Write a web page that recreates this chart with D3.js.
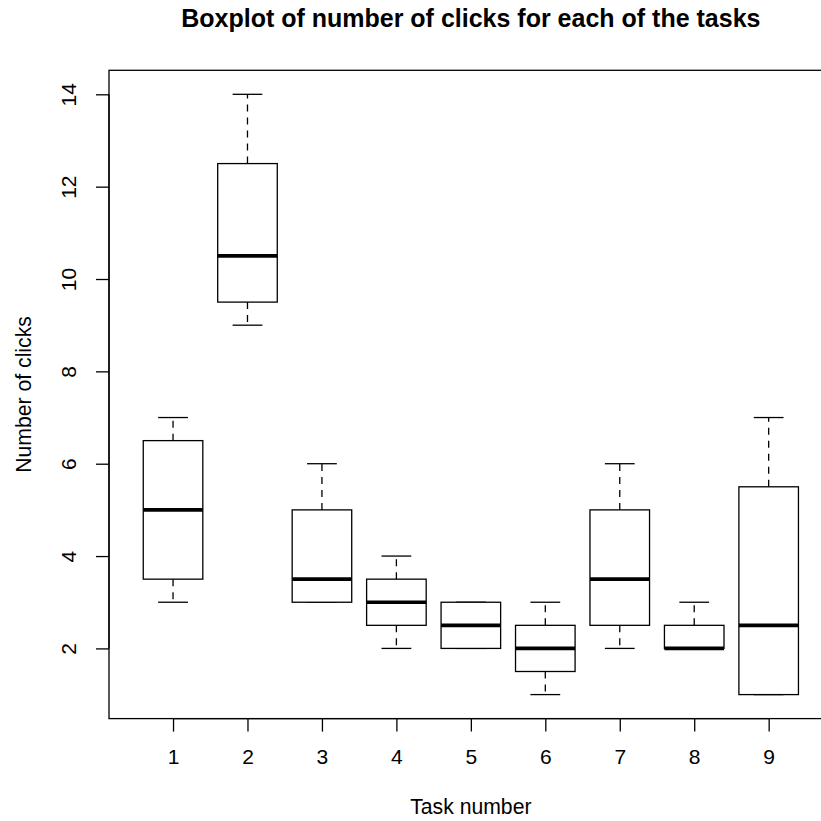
<!DOCTYPE html>
<html><head><meta charset="utf-8">
<script src="https://cdn.jsdelivr.net/npm/d3@7"></script>
<style>body{margin:0;background:#fff}svg{display:block}</style>
</head><body>
<script>
const tasks = ["1","2","3","4","5","6","7","8","9"];
const whiskerLow  = [3, 9, 3, 2, 2, 1, 2, 2, 1];
const boxLow      = [3.5, 9.5, 3, 2.5, 2, 1.5, 2.5, 2, 1];
const medians     = [5, 10.5, 3.5, 3, 2.5, 2, 3.5, 2, 2.5];
const boxHigh     = [6.5, 12.5, 5, 3.5, 3, 2.5, 5, 2.5, 5.5];
const whiskerHigh = [7, 14, 6, 4, 3, 3, 6, 3, 7];
const yTicks = [2, 4, 6, 8, 10, 12, 14];

const W = 821, H = 821;
const svg = d3.select("body").append("svg").attr("width", W).attr("height", H);
const font = "Liberation Sans, Arial, Helvetica, sans-serif";

const x = d3.scaleLinear().domain([0.14, 9.86]).range([109, 832.7]);
const y = d3.scaleLinear().domain([0.48, 14.52]).range([718.6, 70.3]);

const data = tasks.map((t, i) => ({
  t, i: i + 1, wl: whiskerLow[i], bl: boxLow[i], med: medians[i], bh: boxHigh[i], wh: whiskerHigh[i]
}));
const bw = x(1.4) - x(1);   // half box width (0.4)
const cw = x(1.2) - x(1);   // half cap width (0.2)

const g = svg.append("g");
const bx = g.selectAll("g.b").data(data).enter().append("g");
bx.append("line").attr("x1", d => x(d.i)).attr("x2", d => x(d.i))
  .attr("y1", d => y(d.bh)).attr("y2", d => y(d.wh))
  .attr("stroke", "#000").attr("stroke-width", 1.3).attr("stroke-dasharray", "7,6");
bx.append("line").attr("x1", d => x(d.i)).attr("x2", d => x(d.i))
  .attr("y1", d => y(d.bl)).attr("y2", d => y(d.wl))
  .attr("stroke", "#000").attr("stroke-width", 1.3).attr("stroke-dasharray", "7,6");
bx.append("line").attr("x1", d => x(d.i) - cw).attr("x2", d => x(d.i) + cw)
  .attr("y1", d => y(d.wh)).attr("y2", d => y(d.wh)).attr("stroke", "#000").attr("stroke-width", 1.3);
bx.append("line").attr("x1", d => x(d.i) - cw).attr("x2", d => x(d.i) + cw)
  .attr("y1", d => y(d.wl)).attr("y2", d => y(d.wl)).attr("stroke", "#000").attr("stroke-width", 1.3);
bx.append("rect").attr("x", d => x(d.i) - bw).attr("width", 2 * bw)
  .attr("y", d => y(d.bh)).attr("height", d => y(d.bl) - y(d.bh))
  .attr("fill", "#fff").attr("stroke", "#000").attr("stroke-width", 1.3);
bx.append("line").attr("x1", d => x(d.i) - bw).attr("x2", d => x(d.i) + bw)
  .attr("y1", d => y(d.med)).attr("y2", d => y(d.med)).attr("stroke", "#000").attr("stroke-width", 3.6);

svg.append("rect").attr("x", x.range()[0]).attr("y", y.range()[1])
  .attr("width", x.range()[1] - x.range()[0]).attr("height", y.range()[0] - y.range()[1])
  .attr("fill", "none").attr("stroke", "#000").attr("stroke-width", 1.3);

const xAxis = d3.axisBottom(x).tickValues(d3.range(1, 10)).tickFormat(d => tasks[d - 1])
  .tickSize(13).tickPadding(17);
const xa = svg.append("g").attr("transform", `translate(0,${y.range()[0]})`).call(xAxis);
xa.select(".domain").attr("d", `M${x(1)},0H${x(9)}`).attr("stroke-width", 1.3);
xa.selectAll(".tick line").attr("stroke-width", 1.3);
xa.selectAll("text").attr("font-family", font).attr("font-size", 21).attr("fill", "#000");

const yAxis = d3.axisLeft(y).tickValues(yTicks).tickSize(13).tickPadding(0).tickFormat(d3.format("d"));
const ya = svg.append("g").attr("transform", `translate(${x.range()[0]},0)`).call(yAxis);
ya.select(".domain").attr("d", `M0,${y(2)}V${y(14)}`).attr("stroke-width", 1.3);
ya.selectAll(".tick line").attr("stroke-width", 1.3);
ya.selectAll("text").attr("font-family", font).attr("font-size", 21).attr("fill", "#000")
  .attr("text-anchor", "middle").attr("x", 0).attr("dy", 0)
  .attr("transform", "translate(-39,0) rotate(-90)").attr("y", 0).attr("dominant-baseline", "middle");

svg.append("text").attr("x", (x.range()[0] + x.range()[1]) / 2).attr("y", 27)
  .attr("text-anchor", "middle").attr("font-family", font).attr("font-weight", "bold")
  .attr("font-size", 25).text("Boxplot of number of clicks for each of the tasks");
svg.append("text").attr("x", (x.range()[0] + x.range()[1]) / 2).attr("y", 814)
  .attr("text-anchor", "middle").attr("font-family", font).attr("font-size", 21.2).text("Task number");
svg.append("text").attr("transform", `translate(31,${(y.range()[0] + y.range()[1]) / 2}) rotate(-90)`)
  .attr("text-anchor", "middle").attr("font-family", font).attr("font-size", 21.2).text("Number of clicks");
</script>
</body></html>
